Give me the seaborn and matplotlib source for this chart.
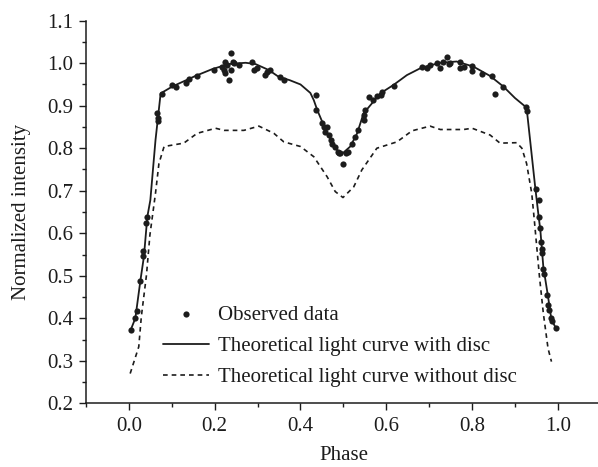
#light curve of the binary: observed points and model curves with / without disc

import matplotlib
matplotlib.use('Agg')
import matplotlib.pyplot as plt
import seaborn as sns
from matplotlib.ticker import MultipleLocator

#~~~~~~~~~~~~~~~~~~~~~~~~~~~~~~~~~~~~~~~~~~~~~~~~~~~~~~~~~~~~~~~~~~~~~~~~~~~~~~~~~~~~~~~~~~~~~~~~~~~~~~~~~~~~~~~~
#data
phase_disc = [0.004, 0.015, 0.027, 0.035, 0.043, 0.050, 0.062, 0.074, 0.101, 0.155, 0.194, 0.233, 0.272,
              0.295, 0.326, 0.349, 0.375, 0.400, 0.423, 0.431, 0.439, 0.462, 0.485, 0.497, 0.516, 0.532,
              0.547, 0.586, 0.617, 0.648, 0.683, 0.726, 0.764, 0.803, 0.842, 0.873, 0.900, 0.924, 0.928,
              0.947, 0.955, 0.959, 0.966, 0.977, 0.985, 0.996]
int_disc = [0.372, 0.400, 0.490, 0.545, 0.639, 0.678, 0.819, 0.929, 0.945, 0.970, 0.986, 0.998, 1.001,
            0.998, 0.984, 0.968, 0.960, 0.950, 0.930, 0.913, 0.890, 0.835, 0.796, 0.787, 0.804, 0.835,
            0.882, 0.929, 0.949, 0.972, 0.990, 1.001, 1.004, 0.992, 0.970, 0.945, 0.918, 0.898, 0.886,
            0.709, 0.640, 0.608, 0.521, 0.451, 0.396, 0.376]

phase_nodisc = [0.003, 0.023, 0.029, 0.041, 0.049, 0.062, 0.070, 0.082, 0.128, 0.159, 0.202, 0.222, 0.268,
                0.303, 0.338, 0.361, 0.400, 0.431, 0.462, 0.481, 0.499, 0.524, 0.543, 0.578, 0.625, 0.660,
                0.702, 0.726, 0.780, 0.800, 0.842, 0.865, 0.904, 0.916, 0.927, 0.939, 0.945, 0.957, 0.966,
                0.977, 0.985]
int_nodisc = [0.270, 0.333, 0.404, 0.502, 0.596, 0.694, 0.764, 0.804, 0.812, 0.835, 0.847, 0.842, 0.842,
              0.852, 0.835, 0.815, 0.804, 0.780, 0.733, 0.698, 0.684, 0.709, 0.749, 0.800, 0.815, 0.841,
              0.852, 0.844, 0.844, 0.847, 0.831, 0.812, 0.813, 0.800, 0.764, 0.694, 0.631, 0.498, 0.412,
              0.329, 0.298]

obs_phase = [0.004, 0.014, 0.018, 0.026, 0.032, 0.033, 0.041, 0.043, 0.066, 0.068, 0.068, 0.078, 0.101,
             0.109, 0.132, 0.140, 0.159, 0.198, 0.216, 0.221, 0.223, 0.225, 0.229, 0.233, 0.237, 0.238,
             0.243, 0.244, 0.256, 0.287, 0.291, 0.298, 0.318, 0.322, 0.330, 0.353, 0.361, 0.437, 0.437,
             0.450, 0.454, 0.458, 0.462, 0.466, 0.470, 0.474, 0.481, 0.487, 0.489, 0.493, 0.499, 0.505,
             0.510, 0.520, 0.528, 0.535, 0.547, 0.547, 0.551, 0.559, 0.570, 0.578, 0.588, 0.590, 0.617,
             0.683, 0.695, 0.702, 0.718, 0.726, 0.733, 0.741, 0.745, 0.749, 0.771, 0.772, 0.780, 0.800,
             0.800, 0.822, 0.846, 0.854, 0.872, 0.926, 0.928, 0.949, 0.955, 0.957, 0.958, 0.960, 0.962,
             0.963, 0.966, 0.968, 0.975, 0.977, 0.980, 0.983, 0.987, 0.996]
obs_int = [0.372, 0.400, 0.416, 0.488, 0.559, 0.546, 0.625, 0.639, 0.882, 0.870, 0.865, 0.928, 0.949,
           0.943, 0.953, 0.964, 0.970, 0.984, 0.992, 0.984, 0.976, 1.004, 0.996, 0.960, 1.025, 0.984,
           1.004, 1.000, 0.996, 1.004, 0.984, 0.988, 0.972, 0.980, 0.984, 0.967, 0.960, 0.925, 0.890,
           0.859, 0.851, 0.839, 0.851, 0.831, 0.819, 0.811, 0.804, 0.792, 0.788, 0.788, 0.763, 0.789,
           0.792, 0.811, 0.827, 0.843, 0.866, 0.878, 0.890, 0.920, 0.914, 0.923, 0.925, 0.933, 0.946,
           0.991, 0.988, 0.995, 1.001, 0.988, 1.003, 1.014, 0.998, 1.000, 0.988, 1.003, 0.992, 0.994,
           0.982, 0.975, 0.971, 0.927, 0.943, 0.896, 0.888, 0.705, 0.678, 0.639, 0.612, 0.580, 0.564,
           0.553, 0.517, 0.505, 0.455, 0.431, 0.419, 0.400, 0.394, 0.376]

#~~~~~~~~~~~~~~~~~~~~~~~~~~~~~~~~~~~~~~~~~~~~~~~~~~~~~~~~~~~~~~~~~~~~~~~~~~~~~~~~~~~~~~~~~~~~~~~~~~~~~~~~~~~~~~~~
#plot
sns.set_theme(style='ticks')
plt.rcParams['font.family'] = ['Liberation Serif', 'DejaVu Serif']
ink = '#1c1c1c'
fs = 15

fig = plt.figure(figsize=(5.98, 4.67), dpi=100)
ax = fig.add_axes([0.1438, 0.1364, 0.8609, 0.8193])

sns.lineplot(x=phase_disc, y=int_disc, ax=ax, color=ink, linewidth=1.3,
             label='Theoretical light curve with disc')
sns.lineplot(x=phase_nodisc, y=int_nodisc, ax=ax, color=ink, linewidth=1.2,
             linestyle=(0, (2.8, 2.4)), label='Theoretical light curve without disc')
sns.scatterplot(x=obs_phase, y=obs_int, ax=ax, color=ink, s=20, linewidth=0,
                label='Observed data', zorder=5)

ax.set_xlim(-0.1, 1.1)
ax.set_ylim(0.2, 1.1)
ax.xaxis.set_major_locator(MultipleLocator(0.2))
ax.xaxis.set_minor_locator(MultipleLocator(0.1))
ax.yaxis.set_major_locator(MultipleLocator(0.1))
ax.yaxis.set_minor_locator(MultipleLocator(0.05))
ax.xaxis.set_major_formatter(plt.FormatStrFormatter('%.1f'))
ax.yaxis.set_major_formatter(plt.FormatStrFormatter('%.1f'))
ax.tick_params(which='major', length=5, width=1, color=ink, labelsize=fs, labelcolor=ink)
ax.tick_params(which='minor', length=3, width=1, color=ink)
ax.tick_params(axis='x', which='major', pad=5)
ax.tick_params(axis='y', which='major', pad=4)
sns.despine(ax=ax)
for sp in ['left', 'bottom']:
    ax.spines[sp].set_color(ink)
    ax.spines[sp].set_linewidth(1.1)

ax.set_xlabel('Phase', fontsize=fs, color=ink)
ax.set_ylabel('Normalized intensity', fontsize=fs, color=ink)
ax.yaxis.set_label_coords(-0.107, 0.5)
ax.xaxis.set_label_coords(0.5, -0.112)

handles, labels = ax.get_legend_handles_labels()
order = [2, 0, 1]
ax.legend([handles[i] for i in order], [labels[i] for i in order], loc='upper left',
          bbox_to_anchor=(0.150, 0.257), frameon=False, fontsize=fs, borderpad=0,
          borderaxespad=0, handlelength=2.2, handletextpad=0.43, labelspacing=0.57,
          scatterpoints=1, labelcolor=ink)

fig.savefig('out.png', dpi=100)
